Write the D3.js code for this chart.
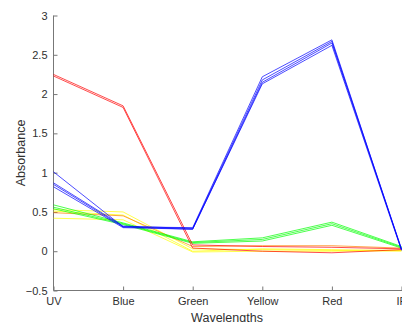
<!DOCTYPE html>
<html>
<head>
<meta charset="utf-8">
<script src="https://cdn.jsdelivr.net/npm/d3@7"></script>
<style>
  body { margin: 0; background: #fff; }
  svg { display: block; font-family: "Liberation Sans", Arial, sans-serif; }
</style>
</head>
<body>
<svg id="chart" width="402" height="322"></svg>
<script>
// categories on x
const wavelengths = ["UV", "Blue", "Green", "Yellow", "Red", "IR"];
const yTicks = [-0.5, 0, 0.5, 1, 1.5, 2, 2.5, 3];

// absorbance per sample, one array per line
const blue1 = [1.01, 0.31, 0.30, 2.22, 2.69, 0.02];
const blue2 = [0.87, 0.32, 0.29, 2.18, 2.67, 0.03];
const blue3 = [0.85, 0.31, 0.28, 2.15, 2.65, 0.02];
const blue4 = [0.82, 0.30, 0.28, 2.13, 2.62, 0.01];
const red1 = [2.25, 1.85, 0.08, 0.06, 0.05, 0.03];
const red2 = [2.23, 1.83, 0.04, 0.00, -0.02, 0.02];
const orange1 = [0.49, 0.45, 0.06, 0.07, 0.07, 0.04];
const yellow1 = [0.53, 0.50, 0.03, 0.02, 0.01, 0.00];
const yellow2 = [0.51, 0.46, 0.00, 0.03, 0.02, 0.01];
const yellow3 = [0.42, 0.40, -0.01, 0.00, 0.00, 0.01];
const green1 = [0.59, 0.36, 0.12, 0.17, 0.37, 0.06];
const green2 = [0.56, 0.35, 0.11, 0.15, 0.35, 0.05];
const green3 = [0.54, 0.34, 0.10, 0.13, 0.33, 0.04];

const series = [
  { values: yellow3, color: "#ffff00" },
  { values: yellow2, color: "#ffff00" },
  { values: yellow1, color: "#ffff00" },
  { values: orange1, color: "#ff8000" },
  { values: green3, color: "#00ff00" },
  { values: green2, color: "#00ff00" },
  { values: green1, color: "#00ff00" },
  { values: red2, color: "#ff0000" },
  { values: red1, color: "#ff0000" },
  { values: blue4, color: "#0000ff" },
  { values: blue3, color: "#0000ff" },
  { values: blue2, color: "#0000ff" },
  { values: blue1, color: "#0000ff" }
];

const svg = d3.select("#chart");
const mLeft = 53.5, mRight = 401.5, mTop = 15.5, mBottom = 290.5;

const x = d3.scalePoint().domain(wavelengths).range([mLeft, mRight]);
const y = d3.scaleLinear().domain([-0.5, 3]).range([mBottom, mTop]);

const axisColor = "#303030";

// y axis
const yAxis = svg.append("g")
  .attr("transform", "translate(" + mLeft + ",0)")
  .call(d3.axisLeft(y).tickValues(yTicks).tickFormat(d3.format("")).tickSize(-4).tickPadding(6));
// x axis
const xAxis = svg.append("g")
  .attr("transform", "translate(0," + mBottom + ")")
  .call(d3.axisBottom(x).tickSize(-4).tickPadding(7));

[xAxis, yAxis].forEach(function(a) {
  a.select(".domain").attr("stroke", "#777").attr("stroke-width", 1);
  a.selectAll(".tick line").attr("stroke", "#777");
  a.selectAll("text").attr("fill", axisColor).style("font-size", "11px");
  a.attr("font-family", null);
});
// no outer tick stubs on domain
xAxis.select(".domain").attr("d", "M" + mLeft + ",0H" + 402);
yAxis.select(".domain").attr("d", "M0," + mBottom + "V" + mTop);

const line = d3.line()
  .x(function(d, i) { return x(wavelengths[i]); })
  .y(function(d) { return y(d); });

svg.append("g")
  .selectAll("path")
  .data(series)
  .join("path")
  .attr("d", function(d) { return line(d.values); })
  .attr("fill", "none")
  .attr("stroke", function(d) { return d.color; })
  .attr("stroke-width", 0.7)
  .attr("stroke-linejoin", "round");

// labels
svg.append("text")
  .attr("x", 227)
  .attr("y", 322)
  .attr("text-anchor", "middle")
  .attr("fill", axisColor)
  .style("font-size", "12.5px")
  .text("Wavelengths");

svg.append("text")
  .attr("transform", "translate(25," + ((mTop + mBottom) / 2) + ") rotate(-90)")
  .attr("text-anchor", "middle")
  .attr("fill", axisColor)
  .style("font-size", "12.5px")
  .text("Absorbance");
</script>
</body>
</html>
